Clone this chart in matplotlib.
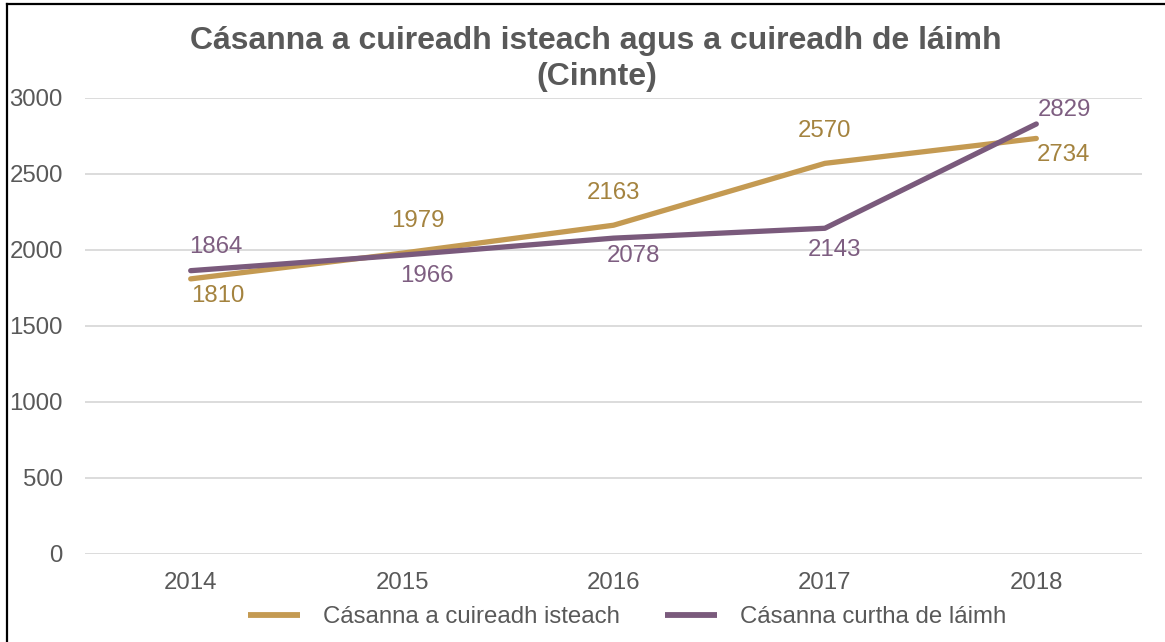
import matplotlib.pyplot as plt
from matplotlib.lines import Line2D

plt.rcParams['font.family'] = ['Liberation Sans', 'DejaVu Sans']

# data
years = ['2014', '2015', '2016', '2017', '2018']
isteach = [1810, 1979, 2163, 2570, 2734]
laimh = [1864, 1966, 2078, 2143, 2829]
yticks = [0, 500, 1000, 1500, 2000, 2500, 3000]

gold = '#C49A52'
gold_txt = '#A4833F'
purple = '#7A5A7C'
purple_txt = '#7E5E81'
grey = '#595959'

W, H = 1165, 642
fig = plt.figure(figsize=(W / 100, H / 100), dpi=100)
ax = fig.add_axes([85 / W, (H - 554) / H, (1142 - 85) / W, (554 - 98) / H])

x = list(range(len(years)))
ax.plot(x, isteach, color=gold, lw=3.8, solid_capstyle='round', label='Cásanna a cuireadh isteach')
ax.plot(x, laimh, color=purple, lw=3.8, solid_capstyle='round', label='Cásanna curtha de láimh')

# label offsets in pixels (dx, dy)
off_gold = [(27, -17), (16, 32), (0, 32), (0, 32), (27, -17)]
off_purple = [(25, 24), (25, -21), (20, -18), (10, -22), (28, 14)]
for i, v in enumerate(isteach):
    ax.annotate(str(v), (i, v), xytext=off_gold[i], textcoords='offset pixels',
                ha='center', va='center', fontsize=17.3, color=gold_txt)
for i, v in enumerate(laimh):
    ax.annotate(str(v), (i, v), xytext=off_purple[i], textcoords='offset pixels',
                ha='center', va='center', fontsize=17.3, color=purple_txt)

ax.set_xlim(-0.5, len(years) - 0.5)
ax.set_ylim(0, 3000)
ax.set_yticks(yticks)
ax.set_xticks(x)
ax.set_xticklabels(years)
ax.tick_params(length=0, labelsize=17.3, colors=grey)
ax.tick_params(axis='y', pad=16)
ax.tick_params(axis='x', pad=13)
ax.grid(axis='y', color='#D9D9D9', lw=1.3)
ax.set_axisbelow(True)
for s in ax.spines.values():
    s.set_visible(False)

# title, two lines placed on their baselines
fig.text(596 / W, 1 - 49 / H, 'Cásanna a cuireadh isteach agus a cuireadh de láimh',
         ha='center', va='baseline', fontsize=23, fontweight='bold', color=grey)
fig.text(597 / W, 1 - 85 / H, '(Cinnte)',
         ha='center', va='baseline', fontsize=23, fontweight='bold', color=grey)

leg = fig.legend(loc='center', bbox_to_anchor=(627 / W, 1 - 617 / H), ncol=2, frameon=False,
                 fontsize=17.3, handlelength=2.15, columnspacing=1.9, handletextpad=0.95)
for t in leg.get_texts():
    t.set_color(grey)
for h in leg.legend_handles:
    h.set_linewidth(4.2)
    h.set_solid_capstyle('butt')

# frame border on left and top
fig.add_artist(Line2D([7 / W, 7 / W], [0, 1 - 4 / H], color='black', lw=1.6, transform=fig.transFigure))
fig.add_artist(Line2D([7 / W, 1], [1 - 4 / H, 1 - 4 / H], color='black', lw=1.6, transform=fig.transFigure))

fig.savefig('out.png', dpi=100)
